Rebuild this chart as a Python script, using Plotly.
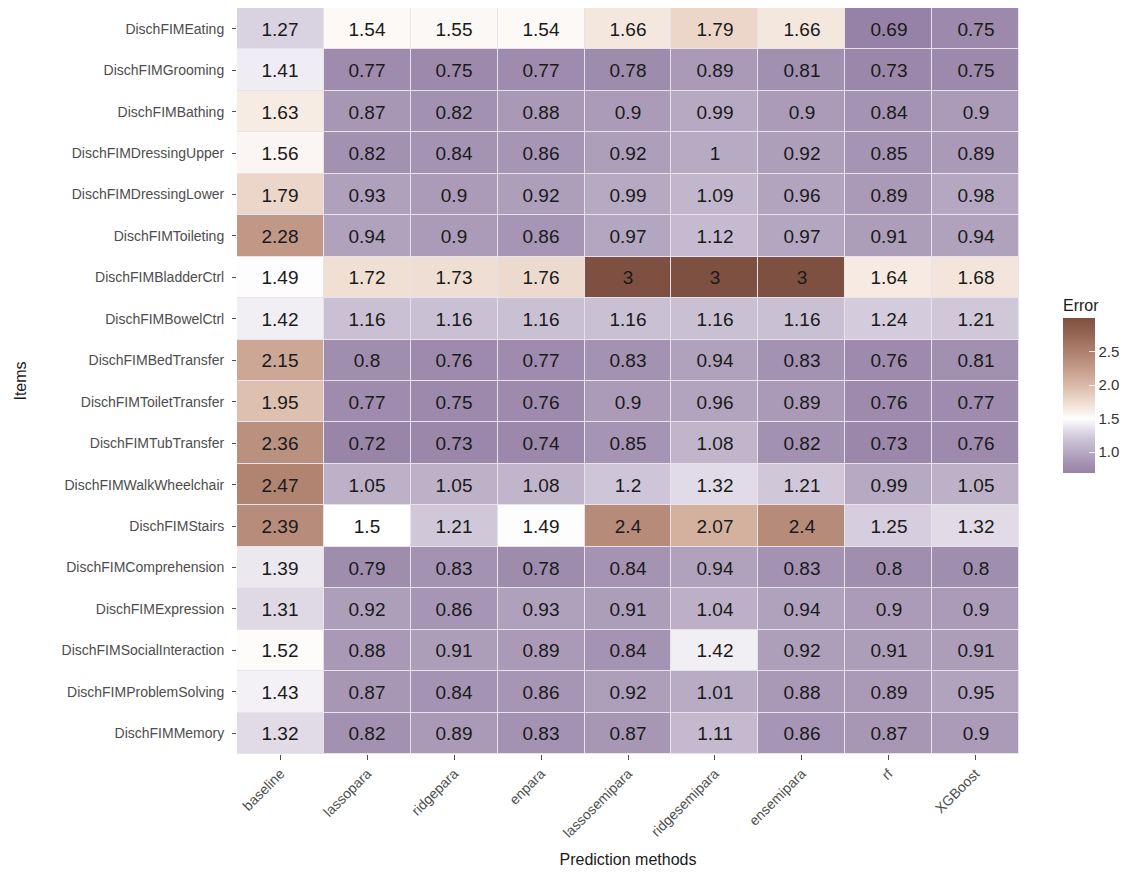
import plotly.graph_objects as go

methods = ["baseline", "lassopara", "ridgepara", "enpara", "lassosemipara",
           "ridgesemipara", "ensemipara", "rf", "XGBoost"]

items = ["DischFIMEating", "DischFIMGrooming", "DischFIMBathing", "DischFIMDressingUpper",
         "DischFIMDressingLower", "DischFIMToileting", "DischFIMBladderCtrl", "DischFIMBowelCtrl",
         "DischFIMBedTransfer", "DischFIMToiletTransfer", "DischFIMTubTransfer",
         "DischFIMWalkWheelchair", "DischFIMStairs", "DischFIMComprehension",
         "DischFIMExpression", "DischFIMSocialInteraction", "DischFIMProblemSolving",
         "DischFIMMemory"]

eating = [1.27, 1.54, 1.55, 1.54, 1.66, 1.79, 1.66, 0.69, 0.75]
grooming = [1.41, 0.77, 0.75, 0.77, 0.78, 0.89, 0.81, 0.73, 0.75]
bathing = [1.63, 0.87, 0.82, 0.88, 0.9, 0.99, 0.9, 0.84, 0.9]
dressing_upper = [1.56, 0.82, 0.84, 0.86, 0.92, 1, 0.92, 0.85, 0.89]
dressing_lower = [1.79, 0.93, 0.9, 0.92, 0.99, 1.09, 0.96, 0.89, 0.98]
toileting = [2.28, 0.94, 0.9, 0.86, 0.97, 1.12, 0.97, 0.91, 0.94]
bladder = [1.49, 1.72, 1.73, 1.76, 3, 3, 3, 1.64, 1.68]
bowel = [1.42, 1.16, 1.16, 1.16, 1.16, 1.16, 1.16, 1.24, 1.21]
bed_transfer = [2.15, 0.8, 0.76, 0.77, 0.83, 0.94, 0.83, 0.76, 0.81]
toilet_transfer = [1.95, 0.77, 0.75, 0.76, 0.9, 0.96, 0.89, 0.76, 0.77]
tub_transfer = [2.36, 0.72, 0.73, 0.74, 0.85, 1.08, 0.82, 0.73, 0.76]
walk_wheelchair = [2.47, 1.05, 1.05, 1.08, 1.2, 1.32, 1.21, 0.99, 1.05]
stairs = [2.39, 1.5, 1.21, 1.49, 2.4, 2.07, 2.4, 1.25, 1.32]
comprehension = [1.39, 0.79, 0.83, 0.78, 0.84, 0.94, 0.83, 0.8, 0.8]
expression = [1.31, 0.92, 0.86, 0.93, 0.91, 1.04, 0.94, 0.9, 0.9]
social = [1.52, 0.88, 0.91, 0.89, 0.84, 1.42, 0.92, 0.91, 0.91]
problem = [1.43, 0.87, 0.84, 0.86, 0.92, 1.01, 0.88, 0.89, 0.95]
memory = [1.32, 0.82, 0.89, 0.83, 0.87, 1.11, 0.86, 0.87, 0.9]

z = [eating, grooming, bathing, dressing_upper, dressing_lower, toileting, bladder, bowel,
     bed_transfer, toilet_transfer, tub_transfer, walk_wheelchair, stairs, comprehension,
     expression, social, problem, memory]

colorbar_ticks = [1.0, 1.5, 2.0, 2.5]

zmin = min(min(r) for r in z)
zmax = max(max(r) for r in z)

stops = [(0.69, "#9682a6"), (0.85, "#a594b3"), (1.0, "#b7aac3"), (1.2, "#cec5d8"),
         (1.35, "#e5e0eb"), (1.5, "#ffffff"), (1.65, "#f5e9e0"), (1.8, "#ead5c7"),
         (2.0, "#dab9a8"), (2.25, "#c49b89"), (2.5, "#ae816f"), (2.75, "#966755"),
         (3.0, "#7d5041")]
colorscale = [[(v - zmin) / (zmax - zmin), c] for v, c in stops]

text = [[("%g" % v) for v in row] for row in z]

# page has an 8px body margin; figure is placed at (8, 8)
W, H = 1122, 869
L, T = 229, 0
R = W - 1011
B = H - 746
ph = H - T - B
pw = W - L - R

fig = go.Figure(go.Heatmap(
    z=z, x=methods, y=items,
    zmin=zmin, zmax=zmax,
    colorscale=colorscale,
    xgap=1, ygap=1,
    text=text, texttemplate="%{text}",
    textfont=dict(family="Liberation Sans, Arial", size=19, color="#1a1a1a"),
    colorbar=dict(
        title=dict(text="Error", side="top", font=dict(family="Liberation Sans", size=16, color="#1a1a1a")),
        x=(1055 - L) / pw, xanchor="left", xref="paper", xpad=0,
        y=1 - (465 - T) / ph, yanchor="bottom", ypad=0,
        len=177, lenmode="pixels",
        thickness=32, thicknessmode="pixels",
        outlinewidth=0,
        tickvals=colorbar_ticks, ticktext=["%.1f" % v for v in colorbar_ticks],
        ticks="inside", ticklen=6, tickcolor="rgba(255,255,255,0.8)",
        tickfont=dict(family="Liberation Sans", size=15, color="#333333"),
    ),
    hoverinfo="skip",
))

fig.update_layout(
    width=W, height=H,
    margin=dict(l=L, r=R, t=T, b=B, autoexpand=False),
    paper_bgcolor="white",
    plot_bgcolor="#e8e2ec",
    font=dict(family="Liberation Sans, Arial"),
)
fig.update_xaxes(
    title=dict(text="Prediction methods", font=dict(size=16, color="#1a1a1a"), standoff=14),
    tickangle=-45, tickfont=dict(size=14, color="#4d4d4d"),
    ticks="outside", ticklen=5, tickcolor="#4d4d4d",
    showgrid=False, zeroline=False, showline=False, automargin=False,
)
fig.update_yaxes(
    title=dict(text="Items", font=dict(size=16, color="#1a1a1a"), standoff=30),
    autorange="reversed",
    tickfont=dict(size=14, color="#4d4d4d"),
    ticks="outside", ticklen=4, tickcolor="#4d4d4d", ticklabelstandoff=5,
    showgrid=False, zeroline=False, showline=False, automargin=False,
)

fig.write_html("out.html")
